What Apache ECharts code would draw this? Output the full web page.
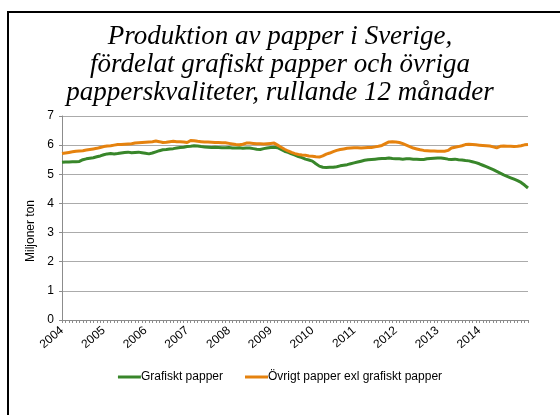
<!DOCTYPE html>
<html>
<head>
<meta charset="utf-8">
<script src="https://cdn.jsdelivr.net/npm/echarts@6/dist/echarts.min.js"></script>
<style>
  html, body { margin: 0; padding: 0; background: #fff; }
  #chart { width: 560px; height: 415px; }
</style>
</head>
<body>
<div id="chart"></div>
<script>
// Månadsdata, rullande 12 månader, jan 2004 och framåt (miljoner ton)
var startYear = 2004;
var yearLabels = ['2004', '2005', '2006', '2007', '2008', '2009', '2010', '2011', '2012', '2013', '2014'];

var grafiskt = [
    5.41, 5.42, 5.42, 5.43, 5.43, 5.44, 5.50, 5.53, 5.55, 5.57,
    5.60, 5.63, 5.67, 5.70, 5.71, 5.70, 5.71, 5.73, 5.75, 5.76,
    5.74, 5.75, 5.76, 5.74, 5.72, 5.70, 5.73, 5.77, 5.81, 5.84,
    5.85, 5.87, 5.88, 5.90, 5.92, 5.93, 5.95, 5.96, 5.98, 5.97,
    5.95, 5.94, 5.93, 5.92, 5.93, 5.92, 5.91, 5.91, 5.92, 5.90,
    5.90, 5.91, 5.89, 5.90, 5.90, 5.88, 5.86, 5.85, 5.88, 5.90,
    5.92, 5.93, 5.91, 5.85, 5.79, 5.75, 5.70, 5.66, 5.61, 5.57,
    5.52, 5.49, 5.45, 5.36, 5.28, 5.24, 5.23, 5.24, 5.24, 5.26,
    5.29, 5.31, 5.33, 5.36, 5.39, 5.42, 5.45, 5.48, 5.50, 5.51,
    5.52, 5.53, 5.54, 5.54, 5.56, 5.54, 5.53, 5.53, 5.52, 5.53,
    5.53, 5.52, 5.52, 5.51, 5.51, 5.53, 5.54, 5.55, 5.56, 5.56,
    5.54, 5.52, 5.51, 5.52, 5.50, 5.49, 5.47, 5.46, 5.43, 5.40,
    5.36, 5.31, 5.26, 5.21, 5.16, 5.10, 5.04, 4.98, 4.93, 4.88,
    4.83, 4.78, 4.72, 4.63, 4.53
];

var ovrigt = [
    5.71, 5.73, 5.75, 5.77, 5.79, 5.80, 5.81, 5.83, 5.85, 5.87,
    5.89, 5.92, 5.95, 5.97, 5.98, 6.00, 6.02, 6.02, 6.03, 6.04,
    6.05, 6.07, 6.08, 6.09, 6.10, 6.11, 6.12, 6.14, 6.12, 6.09,
    6.10, 6.12, 6.13, 6.12, 6.12, 6.11, 6.09, 6.16, 6.15, 6.13,
    6.12, 6.11, 6.11, 6.10, 6.09, 6.09, 6.08, 6.08, 6.06, 6.04,
    6.02, 6.01, 6.03, 6.07, 6.07, 6.06, 6.05, 6.05, 6.04, 6.05,
    6.06, 6.07, 6.00, 5.93, 5.86, 5.80, 5.75, 5.71, 5.68, 5.66,
    5.65, 5.63, 5.62, 5.60, 5.59, 5.63, 5.69, 5.73, 5.78, 5.82,
    5.85, 5.87, 5.89, 5.90, 5.91, 5.91, 5.90, 5.91, 5.92, 5.92,
    5.94, 5.96, 5.99, 6.05, 6.11, 6.12, 6.11, 6.09, 6.05, 6.00,
    5.95, 5.90, 5.87, 5.84, 5.82, 5.81, 5.80, 5.80, 5.79, 5.79,
    5.79, 5.82, 5.90, 5.93, 5.95, 5.98, 6.02, 6.03, 6.02, 6.01,
    6.00, 5.99, 5.98, 5.97, 5.94, 5.91, 5.96, 5.97, 5.96, 5.96,
    5.95, 5.96, 5.98, 6.01, 6.02
];

// en kategori per månad
var categories = [];
for (var i = 0; i < grafiskt.length; i++) {
    categories.push((startYear + Math.floor(i / 12)) + '-' + ('0' + (i % 12 + 1)).slice(-2));
}

var chart = echarts.init(document.getElementById('chart'));

var option = {
    animation: false,
    title: {
        text: 'Produktion av papper i Sverige,\nfördelat grafiskt papper och övriga\npapperskvaliteter, rullande 12 månader',
        left: 'center',
        top: 18,
        textStyle: {
            fontFamily: 'Liberation Serif',
            fontStyle: 'italic',
            fontWeight: 'normal',
            fontSize: 27,
            lineHeight: 28,
            color: '#000'
        }
    },
    legend: {
        top: 366,
        left: 'center',
        itemGap: 22,
        itemWidth: 23,
        itemHeight: 3,
        icon: 'rect',
        textStyle: {
            fontFamily: 'Liberation Sans',
            fontSize: 12,
            color: '#000',
            padding: [0, 0, 0, -5]
        },
        data: ['Grafiskt papper', 'Övrigt papper exl grafiskt papper']
    },
    grid: {
        left: 62,
        right: 32,
        top: 116,
        bottom: 95
    },
    xAxis: {
        type: 'category',
        data: categories,
        boundaryGap: false,
        axisLine: { lineStyle: { color: '#8c8c8c', width: 1 } },
        axisTick: {
            interval: 0,
            length: 3,
            lineStyle: { color: '#8c8c8c' }
        },
        axisLabel: {
            interval: function (index) {
                return index % 12 === 0 && index / 12 < yearLabels.length;
            },
            formatter: function (value, index) {
                return yearLabels[Math.floor(index / 12)];
            },
            rotate: 40,
            margin: 9,
            fontFamily: 'Liberation Sans',
            fontSize: 12,
            color: '#000'
        },
        splitLine: { show: false }
    },
    yAxis: {
        type: 'value',
        min: 0,
        max: 7,
        interval: 1,
        name: 'Miljoner ton',
        nameLocation: 'middle',
        nameGap: 22,
        nameTextStyle: {
            fontFamily: 'Liberation Sans',
            fontSize: 12,
            color: '#000',
            padding: [0, 26, 0, 0]
        },
        axisLine: { show: true, lineStyle: { color: '#8c8c8c' } },
        axisTick: { show: true, length: 3, lineStyle: { color: '#8c8c8c' } },
        axisLabel: {
            margin: 8,
            fontFamily: 'Liberation Sans',
            fontSize: 12,
            color: '#000'
        },
        splitLine: { lineStyle: { color: '#ababab', width: 1 } }
    },
    series: [
        {
            name: 'Grafiskt papper',
            type: 'line',
            data: grafiskt,
            symbol: 'none',
            itemStyle: { color: '#38862a' },
            lineStyle: { color: '#38862a', width: 3 }
        },
        {
            name: 'Övrigt papper exl grafiskt papper',
            type: 'line',
            data: ovrigt,
            symbol: 'none',
            itemStyle: { color: '#e5820e' },
            lineStyle: { color: '#e5820e', width: 3 }
        }
    ],
    graphic: [
        {
            type: 'rect',
            shape: { x: 8, y: 12, width: 700, height: 600 },
            style: { fill: 'none', stroke: '#000', lineWidth: 2 },
            silent: true,
            z: 100
        }
    ]
};

chart.setOption(option);
</script>
</body>
</html>
